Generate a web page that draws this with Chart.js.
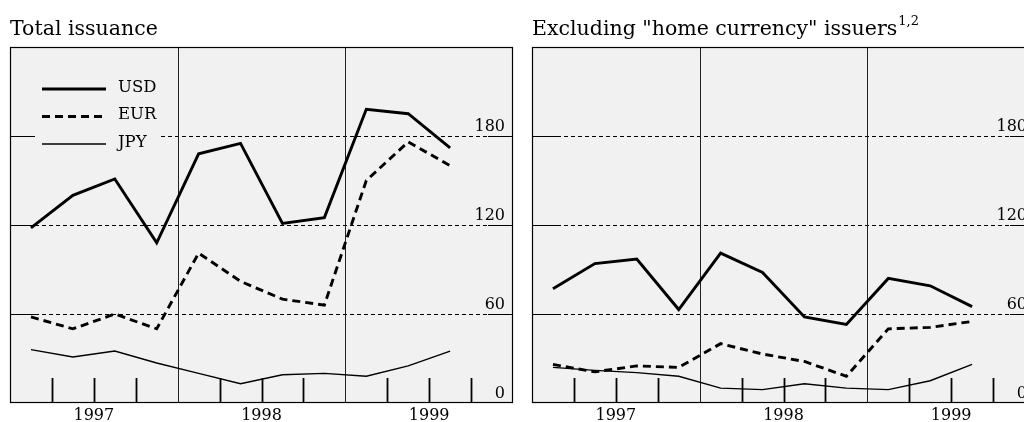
<!DOCTYPE html>
<html>
<head>
<meta charset="utf-8">
<script src="https://cdn.jsdelivr.net/npm/chart.js@4.4.1/dist/chart.umd.min.js"></script>
<style>
    html, body { margin: 0; padding: 0; background: #fff; }
    body { width: 1024px; height: 422px; overflow: hidden; position: relative; }
    canvas { position: absolute; top: 0; }
    #left-chart { left: 0; }
    #right-chart { left: 522px; }
</style>
</head>
<body>
<canvas id="left-chart" width="523" height="422"></canvas>
<canvas id="right-chart" width="523" height="422"></canvas>
<script>
// --- Data (quarterly, 1997 Q1 - 1999 Q4) ---
const quarters = ['1997 Q1', '1997 Q2', '1997 Q3', '1997 Q4',
                  '1998 Q1', '1998 Q2', '1998 Q3', '1998 Q4',
                  '1999 Q1', '1999 Q2', '1999 Q3', '1999 Q4'];
const years = ['1997', '1998', '1999'];
const yTicks = [0, 60, 120, 180];

const totalUsd = [118, 140, 151, 108, 168, 175, 121, 125, 198, 195, 172, null];
const totalEur = [58, 50, 60, 50, 101, 82, 70, 66, 150, 176, 160, null];
const totalJpy = [36, 31, 35, 27, 20, 13, 19, 20, 18, 25, 35, null];

const exclUsd = [77, 94, 97, 63, 101, 88, 58, 53, 84, 79, 65, null];
const exclEur = [26, 21, 25, 24, 40, 33, 28, 18, 50, 51, 55, null];
const exclJpy = [24, 22, 20.5, 18, 10, 9, 13, 10, 9, 15, 26, null];

const FONT = '"DejaVu Serif", "Liberation Serif", serif';

// --- Plugin drawing the panel frame, grid, ticks, labels and legend ---
const panelDecor = {
    id: 'panelDecor',
    beforeDatasetsDraw(chart, args, opts) {
        const ctx = chart.ctx;
        const a = chart.chartArea;
        const xs = chart.scales.x;
        const ys = chart.scales.y;
        ctx.save();

        ctx.fillStyle = '#f1f1f1';
        ctx.fillRect(a.left, a.top, a.right - a.left, a.bottom - a.top);

        // horizontal grid: solid stubs at both ends, dashed in between
        yTicks.forEach(v => {
            const y = Math.round(ys.getPixelForValue(v)) + 0.5;
            if (v > 0) {
                ctx.strokeStyle = '#000';
                ctx.lineWidth = 1;
                ctx.setLineDash([]);
                ctx.beginPath();
                ctx.moveTo(a.left, y); ctx.lineTo(a.left + 25, y);
                ctx.moveTo(a.right - 25, y); ctx.lineTo(a.right, y);
                ctx.stroke();
                ctx.setLineDash([4, 3]);
                ctx.beginPath();
                ctx.moveTo(a.left + 25, y); ctx.lineTo(a.right - 25, y);
                ctx.stroke();
                ctx.setLineDash([]);
            }
            ctx.fillStyle = '#000';
            ctx.font = '16px ' + FONT;
            ctx.textAlign = 'right';
            ctx.textBaseline = 'alphabetic';
            ctx.fillText(String(v), a.right - 8, y - 6);
        });

        // quarter ticks and year separators
        for (let i = 1; i < quarters.length; i++) {
            const x = Math.round((xs.getPixelForValue(i - 1) + xs.getPixelForValue(i)) / 2) + 0.5;
            ctx.beginPath();
            if (i % 4 === 0) {
                ctx.strokeStyle = '#222';
                ctx.lineWidth = 1;
                ctx.moveTo(x, a.top); ctx.lineTo(x, a.bottom);
            } else {
                ctx.strokeStyle = '#000';
                ctx.lineWidth = 1.8;
                ctx.moveTo(x, a.bottom); ctx.lineTo(x, a.bottom - 25);
            }
            ctx.stroke();
        }

        // year labels centred under each year
        ctx.fillStyle = '#000';
        ctx.font = '16px ' + FONT;
        ctx.textAlign = 'center';
        years.forEach((yr, k) => {
            const x = (xs.getPixelForValue(k * 4 + 1) + xs.getPixelForValue(k * 4 + 2)) / 2;
            ctx.fillText(yr, x, 420);
        });

        // legend
        if (opts.legend) {
            ctx.fillStyle = '#f1f1f1';
            ctx.fillRect(a.left + 25, 70, 125, 85);
            chart.data.datasets.forEach((ds, k) => {
                const y = 89 + k * 27.5;
                ctx.strokeStyle = '#000';
                ctx.lineWidth = ds.borderWidth;
                ctx.setLineDash(ds.borderDash || []);
                ctx.beginPath();
                ctx.moveTo(42, y); ctx.lineTo(106, y);
                ctx.stroke();
                ctx.setLineDash([]);
                ctx.fillStyle = '#000';
                ctx.font = '16.5px ' + FONT;
                ctx.textAlign = 'left';
                ctx.fillText(ds.label, 118, y + 2.5);
            });
        }
        ctx.restore();
    },
    afterDraw(chart, args, opts) {
        const ctx = chart.ctx;
        const a = chart.chartArea;
        ctx.save();
        ctx.strokeStyle = '#000';
        ctx.lineWidth = 1.2;
        ctx.strokeRect(a.left + 0.5, a.top + 0.5, a.right - a.left - 1, a.bottom - a.top - 1);

        ctx.fillStyle = '#000';
        ctx.font = '20.5px ' + FONT;
        ctx.textAlign = 'left';
        ctx.textBaseline = 'alphabetic';
        ctx.fillText(opts.title, a.left, 35);
        if (opts.sup) {
            const w = ctx.measureText(opts.title).width;
            ctx.font = '13px ' + FONT;
            ctx.fillText(opts.sup, a.left + w + 1, 25);
        }
        ctx.restore();
    }
};

// --- Build one panel ---
function makePanel(canvasId, title, sup, usd, eur, jpy, showLegend) {
    const canvas = document.getElementById(canvasId);
    new Chart(canvas.getContext('2d'), {
        type: 'line',
        data: {
            labels: quarters,
            datasets: [
                { label: 'USD', data: usd, borderColor: '#000', borderWidth: 2.9 },
                { label: 'EUR', data: eur, borderColor: '#000', borderWidth: 2.9, borderDash: [8, 5] },
                { label: 'JPY', data: jpy, borderColor: '#000', borderWidth: 1.4 }
            ]
        },
        options: {
            responsive: false,
            animation: false,
            layout: { padding: { left: 10, right: 10, top: 47, bottom: 19 } },
            elements: {
                point: { radius: 0 },
                line: { tension: 0, borderJoinStyle: 'miter', borderCapStyle: 'butt', fill: false }
            },
            scales: {
                x: { type: 'category', offset: true, display: false },
                y: { type: 'linear', min: 0, max: 240, display: false }
            },
            plugins: {
                legend: { display: false },
                tooltip: { enabled: false },
                panelDecor: { title: title, sup: sup, legend: showLegend }
            }
        },
        plugins: [panelDecor]
    });
}

makePanel('left-chart', 'Total issuance', '', totalUsd, totalEur, totalJpy, true);
makePanel('right-chart', 'Excluding "home currency" issuers', '1,2', exclUsd, exclEur, exclJpy, false);
</script>
</body>
</html>
